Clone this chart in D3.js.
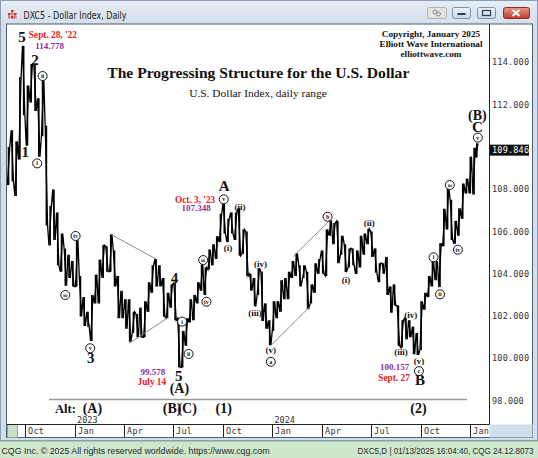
<!DOCTYPE html>
<html>
<head>
<meta charset="utf-8">
<script src="https://cdn.jsdelivr.net/npm/d3@7"></script>
<style>
  body { margin: 0; background: #fff; }
  svg { display: block; }
</style>
</head>
<body>
<div id="chart"></div>
<script>
// weekly bars (mid-week date)
var weekDates = [
  '2022-08-31','2022-09-07','2022-09-14','2022-09-21','2022-09-28','2022-10-05','2022-10-12','2022-10-19','2022-10-26',
  '2022-11-02','2022-11-09','2022-11-16','2022-11-23','2022-11-30','2022-12-07','2022-12-14','2022-12-21','2022-12-28',
  '2023-01-04','2023-01-11','2023-01-18','2023-01-25','2023-02-01','2023-02-08','2023-02-15','2023-02-22','2023-03-01',
  '2023-03-08','2023-03-15','2023-03-22','2023-03-29','2023-04-05','2023-04-12','2023-04-19','2023-04-26','2023-05-03',
  '2023-05-10','2023-05-17','2023-05-24','2023-05-31','2023-06-07','2023-06-14','2023-06-21','2023-06-28','2023-07-05',
  '2023-07-12','2023-07-19','2023-07-26','2023-08-02','2023-08-09','2023-08-16','2023-08-23','2023-08-30','2023-09-06',
  '2023-09-13','2023-09-20','2023-09-27','2023-10-04','2023-10-11','2023-10-18','2023-10-25','2023-11-01','2023-11-08',
  '2023-11-15','2023-11-22','2023-11-29','2023-12-06','2023-12-13','2023-12-20','2023-12-27',
  '2024-01-03','2024-01-10','2024-01-17','2024-01-24','2024-01-31','2024-02-07','2024-02-14','2024-02-21','2024-02-28',
  '2024-03-06','2024-03-13','2024-03-20','2024-03-27','2024-04-03','2024-04-10','2024-04-17','2024-04-24','2024-05-01',
  '2024-05-08','2024-05-15','2024-05-22','2024-05-29','2024-06-05','2024-06-12','2024-06-19','2024-06-26','2024-07-03',
  '2024-07-10','2024-07-17','2024-07-24','2024-07-31','2024-08-07','2024-08-14','2024-08-21','2024-08-28','2024-09-04',
  '2024-09-11','2024-09-18','2024-09-25','2024-10-02','2024-10-09','2024-10-16','2024-10-23','2024-10-30','2024-11-06',
  '2024-11-13','2024-11-20','2024-11-27','2024-12-04','2024-12-11','2024-12-18','2024-12-25',
  '2025-01-01','2025-01-08','2025-01-13'
];
var weekHigh = [
  109.99,110.79,110.26,113.30,114.78,112.90,113.92,113.90,112.30,
  113.15,111.00,107.20,107.99,106.90,105.90,105.20,104.90,104.60,
  105.63,103.90,102.90,102.20,103.00,103.96,104.67,105.36,105.30,
  105.88,105.10,103.90,103.20,102.80,102.80,102.20,102.10,102.40,
  102.70,103.60,104.40,104.70,104.40,103.80,103.10,103.50,103.57,
  101.90,101.30,101.90,102.80,103.00,103.60,104.44,104.30,105.15,
  105.40,105.78,106.84,107.35,106.60,106.90,106.90,107.10,106.10,
  106.00,104.00,103.80,104.26,104.10,102.60,101.80,
  102.70,102.70,103.70,103.80,104.10,104.60,104.97,104.40,104.40,
  104.10,103.50,104.50,104.70,105.10,106.10,106.52,106.40,106.50,
  105.80,105.40,105.20,105.20,105.10,105.80,105.90,106.13,106.00,
  105.20,104.50,104.50,104.80,103.40,103.50,102.50,101.80,101.90,
  101.80,101.50,101.20,102.70,103.10,103.90,104.57,104.60,105.44,
  107.07,108.07,107.50,106.50,107.10,108.27,108.50,
  109.54,109.96,110.17
];
var weekLow = [
  108.20,108.36,107.68,109.40,111.50,110.05,112.10,111.70,109.54,
  110.50,106.28,105.34,105.60,104.40,104.10,103.44,103.80,103.40,
  103.40,101.98,101.53,101.50,100.82,102.60,102.60,103.80,104.10,
  104.10,103.40,101.90,101.90,101.40,100.79,101.20,101.00,101.00,
  101.00,102.20,103.10,103.40,103.40,101.97,101.90,102.40,101.80,
  99.58,99.57,100.60,101.70,101.80,102.60,103.20,103.00,104.20,
  104.40,104.70,105.50,105.90,105.50,105.90,105.60,104.85,104.95,
  103.90,103.20,102.46,103.00,101.77,101.40,100.62,
  101.30,101.90,102.20,102.80,102.80,103.80,103.90,103.40,103.80,
  102.33,102.60,103.10,104.00,104.00,103.90,105.80,105.40,104.50,
  104.90,104.08,104.30,104.40,103.99,104.30,104.90,105.40,104.80,
  104.05,103.60,104.00,103.00,102.16,102.50,100.60,100.51,100.90,
  101.00,100.20,100.16,100.40,102.30,102.90,103.40,103.70,103.37,
  105.30,106.10,105.60,105.42,105.80,106.60,107.80,
  107.80,107.75,109.50
];
var weekClose = [
  109.60,109.00,109.70,113.20,112.10,112.80,113.30,111.90,110.70,
  110.90,106.30,107.00,106.00,104.50,104.80,104.70,104.30,103.50,
  103.90,102.20,102.00,101.90,102.90,103.60,103.90,105.20,104.50,
  104.60,103.90,103.10,102.50,102.10,101.50,101.80,101.60,101.30,
  102.70,103.20,104.20,104.00,103.50,102.30,102.90,102.90,101.90,
  99.90,101.10,101.60,102.00,102.90,103.40,104.10,104.30,105.10,
  105.30,105.60,106.20,106.10,106.60,106.20,106.60,105.00,105.90,
  103.90,103.40,103.30,104.00,102.60,101.70,101.30,
  102.40,102.40,103.30,103.40,103.90,104.10,104.30,103.90,103.90,
  102.70,103.40,104.40,104.50,104.30,106.00,106.10,106.10,105.00,
  105.30,104.50,104.70,104.60,104.90,105.60,105.80,105.90,104.90,
  104.10,104.40,104.30,103.20,103.10,102.40,100.70,101.70,101.20,
  101.10,100.70,100.40,102.50,102.90,103.50,104.30,104.30,105.00,
  106.70,107.50,105.70,106.00,107.00,107.80,108.00,
  108.90,109.65,109.846
];
var lastPrice = 109.846;

var priceTicks = [98, 100, 102, 104, 106, 108, 110, 112, 114];
var quarterDates = ['2022-10-01','2023-01-01','2023-04-01','2023-07-01','2023-10-01',
                    '2024-01-01','2024-04-01','2024-07-01','2024-10-01','2025-01-01'];
var quarterNames = ['Oct','Jan','Apr','Jul','Oct','Jan','Apr','Jul','Oct','Jan'];
var yearNames = ['2023','2024'];
var yearDates = ['2023-01-01','2024-01-01'];

// wave labels anchored at [date, price]
var bigLabels = [
  ['5','2022-09-25',114.97], ['2','2022-10-19',113.87], ['1','2022-10-01',109.52],
  ['3','2023-01-30',99.78], ['4','2023-07-04',103.57], ['5','2023-07-12',98.93],
  ['(A)','2023-07-13',98.38], ['A','2023-10-04',107.91], ['B','2024-09-30',98.74],
  ['C','2025-01-14',110.70], ['(B)','2025-01-14',111.28]
];
var circleLabels = [
  ['ii','2022-11-02',113.35], ['i','2022-10-23',109.22], ['iii','2022-12-14',103.0],
  ['iv','2023-01-02',105.79], ['v','2023-01-29',100.48], ['i','2023-07-18',101.74],
  ['ii','2023-07-30',100.21], ['iii','2023-08-26',104.65], ['iv','2023-09-01',102.68],
  ['v','2023-10-03',107.52], ['a','2023-12-29',99.84], ['b','2024-04-12',106.70],
  ['c','2024-09-28',99.40], ['i','2024-10-25',104.78], ['ii','2024-11-06',103.03],
  ['iii','2024-11-24',108.20], ['iv','2024-12-09',105.14], ['v','2025-01-15',110.44]
];
var parenLabels = [
  ['(i)','2023-10-11',105.21], ['(ii)','2023-11-02',107.14], ['(iii)','2023-11-30',102.16],
  ['(iv)','2023-12-10',104.46], ['(v)','2023-12-29',100.40], ['(i)','2024-05-16',103.71],
  ['(ii)','2024-06-28',106.42], ['(iii)','2024-08-26',100.29], ['(iv)','2024-09-13',102.05],
  ['(v)','2024-09-28',99.90]
];
var noteLabels = [
  ["Sept. 28, '22",'2022-11-21',115.13,'red'], ['114.778','2022-11-15',114.61,'purple'],
  ['99.578','2023-05-25',99.22,'purple'], ['July 14','2023-05-23',98.74,'red'],
  ["Oct. 3, '23",'2023-08-11',107.36,'red'], ['107.348','2023-08-13',106.97,'purple'],
  ['100.157','2024-08-14',99.45,'purple'], ['Sept. 27','2024-08-13',98.93,'red']
];
var altNames = ['(A)','(1)','(2)'];
var altDates = ['2023-02-02','2023-10-03','2024-09-27'];
var trendLines = [
  [['2023-03-07',105.88],['2023-05-31',104.70]],
  [['2023-04-11',100.71],['2023-06-22',101.93]],
  [['2023-12-30',100.63],['2024-03-10',102.44]],
  [['2024-02-08',104.81],['2024-04-16',106.52]]
];

var W = 538, H = 458;
var plotL = 7, plotR = 489.5, plotT = 24.5, plotB = 424.5;
var serif = "'Liberation Serif','Times New Roman',serif";
var mono = "'DejaVu Sans Mono',monospace";
var ui = "'DejaVu Sans','Liberation Sans',sans-serif";
var status = "'Liberation Sans',Arial,sans-serif";

var parse = d3.timeParse('%Y-%m-%d');
var x = d3.scaleTime().domain([parse('2022-10-01'), parse('2025-01-01')]).range([25.3, 470.3]);
var y = d3.scaleLinear().domain([98, 114]).range([400.7, 62.3]);

var svg = d3.select('#chart').append('svg').attr('width', W).attr('height', H);
var defs = svg.append('defs');
var g1 = defs.append('linearGradient').attr('id', 'titleGrad').attr('x1', 0).attr('y1', 0).attr('x2', 0).attr('y2', 1);
g1.append('stop').attr('offset', 0).attr('stop-color', '#e6edf5');
g1.append('stop').attr('offset', 1).attr('stop-color', '#d3dfec');
var g2 = defs.append('linearGradient').attr('id', 'btnGrad').attr('x1', 0).attr('y1', 0).attr('x2', 0).attr('y2', 1);
g2.append('stop').attr('offset', 0).attr('stop-color', '#eef3f9');
g2.append('stop').attr('offset', 1).attr('stop-color', '#c4d3e4');
var g3 = defs.append('linearGradient').attr('id', 'closeGrad').attr('x1', 0).attr('y1', 0).attr('x2', 0).attr('y2', 1);
g3.append('stop').attr('offset', 0).attr('stop-color', '#e6998f');
g3.append('stop').attr('offset', 1).attr('stop-color', '#c1392b');
defs.append('clipPath').attr('id', 'plotClip').append('rect')
  .attr('x', plotL).attr('y', plotT).attr('width', plotR - plotL).attr('height', plotB - plotT);

// window frame
svg.append('rect').attr('width', W).attr('height', H).attr('fill', '#d2deeb');
svg.append('rect').attr('width', W).attr('height', 24).attr('fill', 'url(#titleGrad)');
svg.append('rect').attr('x', 0.5).attr('y', 0.5).attr('width', W - 1).attr('height', 440)
  .attr('fill', 'none').attr('stroke', '#8c9db3');
// title icon
[[7,12,'#c0392b'],[10,12,'#e07a6f'],[13,12,'#c0392b'],[7,15,'#e07a6f'],[10,15,'#c0392b'],[13,15,'#e07a6f'],[10,9,'#c0392b']]
  .forEach(function (p) {
    svg.append('rect').attr('x', p[0] + 1).attr('y', p[1] + 1).attr('width', 2.5).attr('height', 2.5).attr('fill', p[2]);
  });
svg.append('text').text('DXC5 - Dollar Index, Daily')
  .attr('x', 23.5).attr('y', 18.5).attr('font-family', ui).attr('font-size', 11)
  .attr('textLength', 103).attr('lengthAdjust', 'spacingAndGlyphs').attr('fill', '#1b1b1b');

// title buttons
svg.append('rect').attr('x', 427.5).attr('y', 7.5).attr('width', 19).attr('height', 11).attr('rx', 2)
  .attr('fill', '#e3e3e3').attr('stroke', '#b0b0b0');
svg.append('circle').attr('cx', 435).attr('cy', 12).attr('r', 2).attr('fill', 'none').attr('stroke', '#8a8a8a');
svg.append('circle').attr('cx', 438.5).attr('cy', 14).attr('r', 2).attr('fill', 'none').attr('stroke', '#8a8a8a');
svg.append('rect').attr('x', 452.5).attr('y', 7.5).attr('width', 18).attr('height', 11).attr('rx', 2)
  .attr('fill', 'url(#btnGrad)').attr('stroke', '#7f92aa');
svg.append('rect').attr('x', 457.5).attr('y', 13).attr('width', 8).attr('height', 2).attr('fill', '#2c3e55');
svg.append('rect').attr('x', 477.5).attr('y', 7.5).attr('width', 18).attr('height', 11).attr('rx', 2)
  .attr('fill', 'url(#btnGrad)').attr('stroke', '#7f92aa');
svg.append('rect').attr('x', 482.5).attr('y', 10.5).attr('width', 8).attr('height', 5)
  .attr('fill', 'none').attr('stroke', '#2c3e55').attr('stroke-width', 1.2);
svg.append('rect').attr('x', 503.5).attr('y', 7.5).attr('width', 26).attr('height', 11).attr('rx', 2)
  .attr('fill', 'url(#closeGrad)').attr('stroke', '#8b2b22');
svg.append('path').attr('d', 'M512.5,10L519.5,16M519.5,10L512.5,16')
  .attr('stroke', '#fff').attr('stroke-width', 2);

// content area
svg.append('rect').attr('x', 6.5).attr('y', 24).attr('width', 526).attr('height', 413.5)
  .attr('fill', '#fff').attr('stroke', '#4d5d70');
svg.append('rect').attr('x', plotR).attr('y', plotB).attr('width', 532.5 - plotR).attr('height', 437.5 - plotB)
  .attr('fill', '#d2deeb');
svg.append('rect').attr('x', 7.5).attr('y', 424.5).attr('width', 10).attr('height', 13)
  .attr('fill', '#c6e2c6').attr('stroke', '#8fa88f');
svg.append('line').attr('x1', plotR).attr('x2', plotR).attr('y1', 24).attr('y2', plotB)
  .attr('stroke', '#222').attr('stroke-width', 1);
svg.append('line').attr('x1', plotL).attr('x2', plotR).attr('y1', plotB).attr('y2', plotB)
  .attr('stroke', '#222').attr('stroke-width', 1);

// status bar
svg.append('rect').attr('x', 0).attr('y', 441).attr('width', W).attr('height', 17).attr('fill', '#cce7cc');
svg.append('line').attr('x1', 0).attr('x2', W).attr('y1', 441.5).attr('y2', 441.5).attr('stroke', '#a9c9a9');
svg.append('text').text('CQG Inc. \u00a9 2025 All rights reserved worldwide. https://www.cqg.com')
  .attr('x', 1.5).attr('y', 454).attr('font-family', status).attr('font-size', 8.4)
  .attr('textLength', 268).attr('lengthAdjust', 'spacingAndGlyphs').attr('fill', '#2a2a2a');
svg.append('text').text('DXC5,D | 01/13/2025 16:04:40, CQG 24.12.8073')
  .attr('x', 533.5).attr('y', 454).attr('text-anchor', 'end').attr('font-family', status).attr('font-size', 8.4)
  .attr('textLength', 176).attr('lengthAdjust', 'spacingAndGlyphs').attr('fill', '#2a2a2a');

// x axis: quarter ticks
var xAxis = svg.append('g');
quarterDates.forEach(function (d, i) {
  var px = Math.round(x(parse(d))) + 0.5;
  xAxis.append('line').attr('x1', px).attr('x2', px).attr('y1', plotB).attr('y2', 437)
    .attr('stroke', '#222');
  xAxis.append('text').text(quarterNames[i]).attr('x', px + 2.5).attr('y', 434)
    .attr('font-family', mono).attr('font-size', 8.5).attr('letter-spacing', 0.3).attr('fill', '#333');
});
yearDates.forEach(function (d, i) {
  svg.append('text').text(yearNames[i]).attr('x', x(parse(d)) + 2).attr('y', 423)
    .attr('font-family', mono).attr('font-size', 8.5).attr('fill', '#333');
});

// y axis labels on the right
var lastY = y(lastPrice);
svg.append('g').selectAll('text')
  .data(priceTicks.filter(function (v) { return Math.abs(y(v) - lastY) > 9; }))
  .enter().append('text')
  .text(function (v) { return v.toFixed(3); })
  .attr('x', 492).attr('y', function (v) { return y(v) + 3; })
  .attr('font-family', mono).attr('font-size', 8.5).attr('letter-spacing', 0.2).attr('fill', '#333');
svg.append('rect').attr('x', 490).attr('y', lastY - 5.5).attr('width', 39).attr('height', 11).attr('fill', '#111');
svg.append('text').text(lastPrice.toFixed(3)).attr('x', 492).attr('y', lastY + 3)
  .attr('font-family', mono).attr('font-size', 8.5).attr('letter-spacing', 0.2).attr('fill', '#fff');

// titles
svg.append('text').text('The Progressing Structure for the U.S. Dollar')
  .attr('x', 258.3).attr('y', 77.7).attr('text-anchor', 'middle')
  .attr('font-family', serif).attr('font-weight', 'bold').attr('font-size', 15.6).attr('fill', '#111');
svg.append('text').text('U.S. Dollar Index, daily range')
  .attr('x', 258).attr('y', 96.7).attr('text-anchor', 'middle')
  .attr('font-family', serif).attr('font-size', 11.4).attr('fill', '#111');
['Copyright, January 2025', 'Elliott Wave International', 'elliottwave.com'].forEach(function (t, i) {
  svg.append('text').text(t).attr('x', 431).attr('y', 36.7 + i * 10.3).attr('text-anchor', 'middle')
    .attr('font-family', serif).attr('font-weight', 'bold').attr('font-size', 9.2).attr('fill', '#111');
});

// price bars
var plot = svg.append('g').attr('clip-path', 'url(#plotClip)');
var bars = weekDates.map(function (d, i) {
  return { x: x(parse(d)), hi: weekHigh[i], lo: weekLow[i], cl: weekClose[i],
           up: i === 0 ? true : weekClose[i] >= weekClose[i - 1] };
});
plot.selectAll('line.bar').data(bars).enter().append('line')
  .attr('class', 'bar')
  .attr('x1', function (b) { return b.x; }).attr('x2', function (b) { return b.x; })
  .attr('y1', function (b) { return y(b.hi); }).attr('y2', function (b) { return y(b.lo); })
  .attr('stroke', '#000').attr('stroke-width', 1.6);
var zig = [];
bars.forEach(function (b) {
  if (b.up) { zig.push([b.x - 1.2, y(b.lo)]); zig.push([b.x + 1.2, y(b.hi)]); }
  else { zig.push([b.x - 1.2, y(b.hi)]); zig.push([b.x + 1.2, y(b.lo)]); }
});
plot.append('path').attr('d', d3.line()(zig)).attr('fill', 'none')
  .attr('stroke', '#000').attr('stroke-width', 1.3).attr('stroke-linejoin', 'miter');

// triangle / channel lines
trendLines.forEach(function (seg) {
  plot.append('line')
    .attr('x1', x(parse(seg[0][0]))).attr('y1', y(seg[0][1]))
    .attr('x2', x(parse(seg[1][0]))).attr('y2', y(seg[1][1]))
    .attr('stroke', '#8a8a8a').attr('stroke-width', 1);
});

// wave labels
var ann = svg.append('g');
bigLabels.forEach(function (l) {
  ann.append('text').text(l[0]).attr('x', x(parse(l[1]))).attr('y', y(l[2]))
    .attr('text-anchor', 'middle').attr('font-family', serif).attr('font-weight', 'bold')
    .attr('font-size', l[0].length > 1 ? 14 : 15).attr('fill', '#111');
});
parenLabels.forEach(function (l) {
  ann.append('text').text(l[0]).attr('x', x(parse(l[1]))).attr('y', y(l[2]) + 3)
    .attr('text-anchor', 'middle').attr('font-family', serif).attr('font-weight', 'bold')
    .attr('font-size', 9).attr('fill', '#111');
});
circleLabels.forEach(function (l) {
  var cx = x(parse(l[1])), cy = y(l[2]);
  ann.append('circle').attr('cx', cx).attr('cy', cy).attr('r', 4.5)
    .attr('fill', '#fff').attr('stroke', '#111').attr('stroke-width', 1);
  ann.append('text').text(l[0]).attr('x', cx).attr('y', cy + 2)
    .attr('text-anchor', 'middle').attr('font-family', serif).attr('font-weight', 'bold')
    .attr('font-size', l[0].length > 2 ? 5 : 6).attr('fill', '#111');
});
var noteColor = { red: '#f0141e', purple: '#8b2f9c' };
noteLabels.forEach(function (l) {
  ann.append('text').text(l[0]).attr('x', x(parse(l[1]))).attr('y', y(l[2]))
    .attr('text-anchor', 'middle').attr('font-family', serif).attr('font-weight', 'bold')
    .attr('font-size', l[3] === 'red' ? 9.3 : 9).attr('fill', noteColor[l[3]]);
});

// alternate count row
svg.append('line').attr('x1', 49).attr('x2', 467).attr('y1', 399.5).attr('y2', 399.5)
  .attr('stroke', '#9a9a9a').attr('stroke-width', 1.6);
svg.append('text').text('Alt:').attr('x', 55).attr('y', 413)
  .attr('font-family', serif).attr('font-weight', 'bold').attr('font-size', 12.5).attr('fill', '#111');
altDates.forEach(function (d, i) {
  svg.append('text').text(altNames[i]).attr('x', x(parse(d))).attr('y', 413)
    .attr('text-anchor', 'middle').attr('font-family', serif).attr('font-weight', 'bold')
    .attr('font-size', 14).attr('fill', '#111');
});
var bcX = x(parse('2023-07-14'));
svg.append('text').text('(B)').attr('x', bcX + 1.5).attr('y', 413).attr('text-anchor', 'end')
  .attr('font-family', serif).attr('font-weight', 'bold').attr('font-size', 14).attr('fill', '#111');
svg.append('text').text('(C)').attr('x', bcX - 2.5).attr('y', 413).attr('text-anchor', 'start')
  .attr('font-family', serif).attr('font-weight', 'bold').attr('font-size', 14).attr('fill', '#111');
</script>
</body>
</html>
